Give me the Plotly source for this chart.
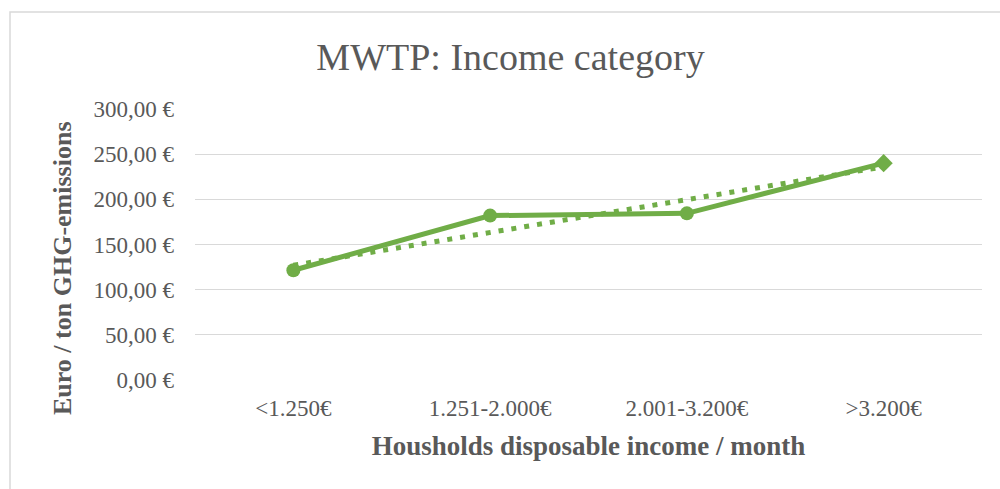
import plotly.graph_objects as go

categories = ["<1.250€", "1.251-2.000€", "2.001-3.200€", ">3.200€"]
mwtp = [121.5, 182.0, 184.5, 240.0]
marker_symbols = ["circle", "circle", "circle", "diamond"]
trend_x = [categories[0], categories[-1]]
trend_y = [127.0, 236.0]
y_ticks = [0, 50, 100, 150, 200, 250, 300]
y_tick_labels = ["0,00 €", "50,00 €", "100,00 €", "150,00 €", "200,00 €", "250,00 €", "300,00 €"]

green = "#70AD47"
font_family = "Liberation Serif, Times New Roman, serif"

fig = go.Figure()
fig.add_trace(go.Scatter(
    x=trend_x, y=trend_y, mode="lines",
    line=dict(color=green, width=5, dash="5px,8px"),
    showlegend=False, hoverinfo="skip",
))
fig.add_trace(go.Scatter(
    x=categories, y=mwtp, mode="lines+markers",
    line=dict(color=green, width=5),
    marker=dict(color=green, size=14, symbol=marker_symbols),
    showlegend=False,
))

L, R, T, B = 195, 18, 109, 109
W, H = 1000, 489
pw, ph = W - L - R, H - T - B

def px(x):
    return (x - L) / pw

def py(y):
    return (H - B - y) / ph

fig.add_shape(type="rect", xref="paper", yref="paper",
              x0=px(10), x1=px(1100), y0=py(12), y1=py(600),
              line=dict(color="#d9d9d9", width=1.5), fillcolor="rgba(0,0,0,0)", layer="below")

fig.add_annotation(text="<b>Euro / ton GHG-emissions</b>", textangle=-90,
                   xref="paper", yref="paper", x=px(62), y=py(268),
                   xanchor="center", yanchor="middle", showarrow=False,
                   font=dict(family=font_family, size=26, color="#595959"))

fig.update_layout(
    width=W, height=H,
    margin=dict(l=L, r=R, t=T, b=B),
    paper_bgcolor="white", plot_bgcolor="white",
    title=dict(text="MWTP: Income category", x=(318 + 703) / 2 / W, xanchor="center",
               y=1 - 57 / H, yanchor="middle",
               font=dict(family=font_family, size=38, color="#595959")),
    xaxis=dict(
        type="category", categoryorder="array", categoryarray=categories,
        range=[-0.5, 3.5], showgrid=False, zeroline=False, showline=False,
        ticks="", ticklabelstandoff=12,
        tickfont=dict(family=font_family, size=23, color="#595959"),
        title=dict(text="<b>Housholds disposable income / month</b>", standoff=16,
                   font=dict(family=font_family, size=27, color="#595959")),
    ),
    yaxis=dict(
        range=[0, 300], tickvals=y_ticks, ticktext=y_tick_labels,
        showgrid=True, gridcolor="#d9d9d9", gridwidth=1.3, zeroline=False, showline=False,
        ticks="", ticklen=0, ticklabelstandoff=20,
        tickfont=dict(family=font_family, size=23, color="#595959"),
    ),
)

fig.write_html("out.html")
